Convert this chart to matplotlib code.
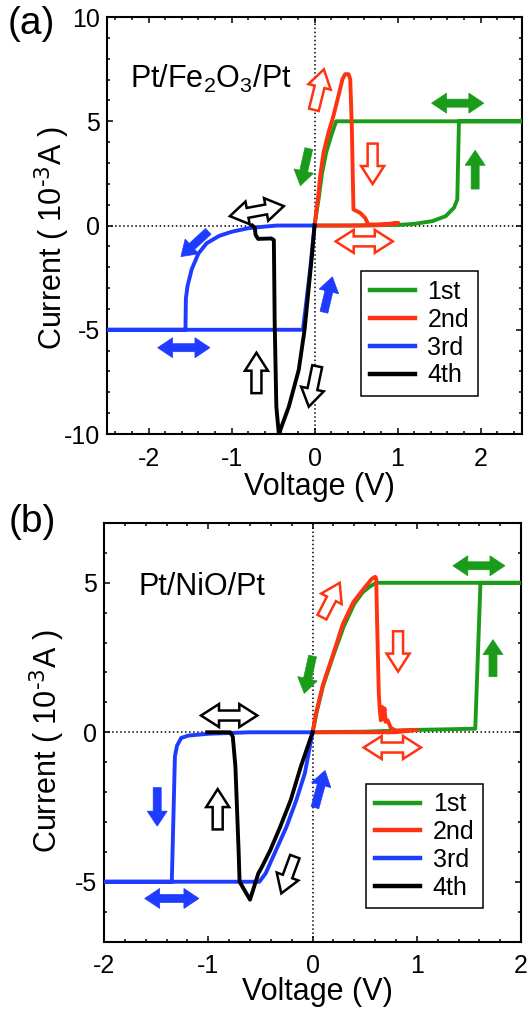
import numpy as np
import matplotlib
matplotlib.use("Agg")
import matplotlib.pyplot as plt
from matplotlib.patches import Polygon
from matplotlib.ticker import MultipleLocator

plt.rcParams['font.family'] = ['Liberation Sans', 'DejaVu Sans']
plt.rcParams['mathtext.default'] = 'regular'
plt.rcParams['axes.unicode_minus'] = False

GREEN = '#1a9c1a'
RED = '#ff3311'
BLUE = '#1e3cff'
BLACK = '#000000'

labels = ['1st', '2nd', '3rd', '4th']

# ---- Pt/Fe2O3/Pt sweeps (V, 1e-3 A) ----
fe_v1 = [0, 0.5, 1.02, 1.2, 1.42, 1.58, 1.68, 1.72, 1.74, 2.5, 0.26, 0.2, 0.14, 0.09, 0.05, 0]
fe_i1 = [0, 0.0, 0.03, 0.08, 0.21, 0.45, 0.85, 1.25, 5.0, 5.0, 5.0, 4.3, 3.5, 2.5, 1.3, 0]

fe_v2 = [0, 0.04, 0.068, 0.108, 0.168, 0.228, 0.288, 0.337, 0.369, 0.41, 0.43, 0.449,
         0.469, 0.549, 0.609, 0.649, 0.73, 0.85, 1.01, 0.8, 0.4, 0]
fe_i2 = [0, 1.25, 2.37, 3.49, 4.46, 5.26, 6.22, 7.02, 7.26, 7.26, 7.02, 4.78,
         0.77, 0.61, 0.37, 0.05, 0.05, 0.07, 0.12, 0.02, 0.0, 0]

fe_v3 = [0, -0.45, -0.6, -0.8, -1.0, -1.15, -1.3, -1.4, -1.48, -1.53, -1.55, -1.555,
         -2.5, -0.14, -0.1, -0.05, 0]
fe_i3 = [0, 0, -0.05, -0.13, -0.3, -0.5, -0.85, -1.35, -2.1, -2.9, -3.5, -5.0,
         -5.0, -5.0, -3.7, -2.0, 0]

fe_v4 = [0, -0.032, -0.072, -0.12, -0.19, -0.31, -0.43, -0.46, -0.48, -0.49, -0.52,
         -0.68, -0.71, -0.72, -0.75]
fe_i4 = [0, -1.47, -3.08, -5.0, -6.92, -8.69, -10.0, -8.69, -4.68, -0.7, -0.62,
         -0.64, -0.45, -0.1, 0]

# ---- Pt/NiO/Pt sweeps ----
ni_v1 = [0, 0.5, 1.0, 1.3, 1.56, 1.61, 2.0, 0.61, 0.55, 0.48, 0.4, 0.3, 0.2, 0.1, 0.04, 0]
ni_i1 = [0, 0.02, 0.08, 0.1, 0.12, 5.0, 5.0, 5.0, 4.88, 4.68, 4.3, 3.55, 2.58, 1.55, 0.68, 0]

ni_v2 = [0, 0.038, 0.102, 0.198, 0.29, 0.39, 0.49, 0.567, 0.6, 0.61, 0.62, 0.635,
         0.645, 0.655, 0.665, 0.675, 0.69, 0.70, 0.72, 0.75, 0.8, 1.0, 0.8, 0]
ni_i2 = [0, 0.72, 1.62, 2.62, 3.62, 4.35, 4.8, 5.13, 5.2, 5.15, 3.5, 1.3,
         0.73, 0.4, 0.85, 0.45, 0.8, 0.35, 0.4, 0.15, 0.05, 0.08, 0.0, 0]

ni_v3 = [0, -0.6, -1.0, -1.19, -1.26, -1.3, -1.32, -1.35, -2.0, -0.51, -0.45, -0.35,
         -0.25, -0.155, -0.074, 0]
ni_i3 = [0, 0.0, -0.05, -0.11, -0.19, -0.45, -0.8, -5.0, -5.0, -5.0, -4.72, -3.94,
         -3.16, -2.26, -1.37, 0]

ni_v4 = [0, -0.113, -0.21, -0.31, -0.405, -0.485, -0.52, -0.6, -0.7, -0.71, -0.74,
         -0.765, -0.79, -1.01]
ni_i4 = [0, -1.15, -2.27, -3.16, -3.94, -4.5, -4.72, -5.6, -5.0, -3.9, -1.15,
         -0.15, 0, 0]

# sweep-direction arrows: (tail, head, colour, filled, double)
fe_arrows = [
    ((-0.069, 3.69), (-0.17, 1.91), GREEN, True, False),
    ((1.935, 1.75), (1.935, 3.61), GREEN, True, False),
    ((1.41, 5.87), (2.04, 5.87), GREEN, True, True),
    ((-0.008, 5.55), (0.113, 7.49), RED, False, False),
    ((0.70, 3.93), (0.70, 1.99), RED, False, False),
    ((0.255, -0.76), (0.943, -0.76), RED, False, True),
    ((-1.28, -0.28), (-1.61, -1.49), BLUE, True, False),
    ((0.113, -4.16), (0.215, -2.46), BLUE, True, False),
    ((-1.89, -5.86), (-1.26, -5.86), BLUE, True, True),
    ((-1.02, 0.45), (-0.37, 0.93), BLACK, False, True),
    ((-0.70, -8.04), (-0.70, -6.1), BLACK, False, False),
    ((0.032, -6.75), (-0.069, -8.69), BLACK, False, False),
]
ni_arrows = [
    ((0.0, 2.55), (-0.08, 1.3), GREEN, True, False),
    ((1.73, 1.86), (1.73, 3.10), GREEN, True, False),
    ((1.345, 5.57), (1.845, 5.57), GREEN, True, True),
    ((0.09, 3.85), (0.26, 5.0), RED, False, False),
    ((0.82, 3.38), (0.82, 2.03), RED, False, False),
    ((0.49, -0.51), (1.04, -0.51), RED, False, True),
    ((-1.49, -1.85), (-1.49, -3.14), BLUE, True, False),
    ((0.023, -2.52), (0.12, -1.28), BLUE, True, False),
    ((-1.61, -5.56), (-1.09, -5.56), BLUE, True, True),
    ((-1.07, 0.56), (-0.53, 0.56), BLACK, False, True),
    ((-0.91, -3.25), (-0.91, -1.90), BLACK, False, False),
    ((-0.17, -4.16), (-0.30, -5.39), BLACK, False, False),
]


def block_arrow(ax, p0, p1, color, filled, double):
    # arrow outline built in pixel space so head sizes don't depend on aspect
    if filled:
        shaft, head_w, head_l = 8, 20, 15
    else:
        shaft, head_w, head_l = 10, 23, 18
    t = ax.transData
    a = np.array(t.transform(p0))
    b = np.array(t.transform(p1))
    d = b - a
    L = np.hypot(*d)
    u = d / L
    n = np.array([-u[1], u[0]])
    hw, sw = head_w * 0.5, shaft * 0.5
    if double:
        pts = [(0, 0), (head_l, hw), (head_l, sw), (L - head_l, sw), (L - head_l, hw),
               (L, 0), (L - head_l, -hw), (L - head_l, -sw), (head_l, -sw), (head_l, -hw)]
    else:
        pts = [(0, sw), (L - head_l, sw), (L - head_l, hw), (L, 0),
               (L - head_l, -hw), (L - head_l, -sw), (0, -sw)]
    pix = np.array([a + s * u + w * n for s, w in pts])
    verts = t.inverted().transform(pix)
    ax.add_patch(Polygon(verts, closed=True,
                         facecolor=color if filled else 'white',
                         edgecolor=color, linewidth=0.5 if filled else 1.8,
                         joinstyle='miter', zorder=6))


def draw_panel(ax, curves, xlim, ylim, title, title_xy, arrows, leg_xy, ylab_xy, xlab_xy):
    ax.set_xlim(*xlim)
    ax.set_ylim(*ylim)
    ax.axhline(0, color='black', lw=1.1, ls=':', zorder=1)
    ax.axvline(0, color='black', lw=1.1, ls=':', zorder=1)
    colors = [GREEN, RED, BLUE, BLACK]
    for (v, i), c, lab in zip(curves, colors, labels):
        ax.plot(v, i, color=c, lw=2.8, label=lab, solid_joinstyle='round', zorder=3)

    ax.xaxis.set_major_locator(MultipleLocator(1))
    ax.xaxis.set_minor_locator(MultipleLocator(0.2))
    ax.yaxis.set_major_locator(MultipleLocator(5))
    ax.yaxis.set_minor_locator(MultipleLocator(1))
    ax.tick_params(which='both', direction='in', top=True, right=True, width=1.1)
    ax.tick_params(which='major', length=4.5, labelsize=18)
    ax.tick_params(which='minor', length=2.2)
    ax.tick_params(axis='x', pad=9)
    ax.tick_params(axis='y', pad=5)
    for s in ax.spines.values():
        s.set_linewidth(1.5)

    ax.set_xlabel('Voltage (V)', fontsize=22)
    ax.set_ylabel(r'Current ( 10$^{\text{-3}}$A )', fontsize=22)
    ax.xaxis.set_label_coords(*xlab_xy)
    ax.yaxis.set_label_coords(*ylab_xy)

    ax.text(title_xy[0], title_xy[1], title, fontsize=22, va='baseline', ha='left')

    leg = ax.legend(loc='lower left', bbox_to_anchor=leg_xy, borderaxespad=0,
                    fontsize=18, frameon=True, fancybox=False, framealpha=1,
                    edgecolor='black', handlelength=1.8, handletextpad=0.5,
                    labelspacing=0.15, borderpad=0.35)
    leg.get_frame().set_linewidth(1.1)
    for ln in leg.get_lines():
        ln.set_linewidth(3.2)

    for tail, head, c, filled, double in arrows:
        block_arrow(ax, tail, head, c, filled, double)


fig = plt.figure(figsize=(5.28, 10.15), dpi=100)
ax_a = fig.add_axes([0.2027, 0.5724, 0.786, 0.4108])
ax_b = fig.add_axes([0.197, 0.0724, 0.790, 0.4123])

draw_panel(ax_a,
           [(fe_v1, fe_i1), (fe_v2, fe_i2), (fe_v3, fe_i3), (fe_v4, fe_i4)],
           (-2.5, 2.5), (-10, 10), 'Pt/Fe$_2$O$_3$/Pt', (-2.22, 6.6),
           fe_arrows, (0.612, 0.091), (-0.084, 0.47), (0.512, -0.09))

draw_panel(ax_b,
           [(ni_v1, ni_i1), (ni_v2, ni_i2), (ni_v3, ni_i3), (ni_v4, ni_i4)],
           (-2, 2), (-7, 7), 'Pt/NiO/Pt', (-1.67, 4.6),
           ni_arrows, (0.629, 0.079), (-0.088, 0.48), (0.511, -0.085))

fig.text(31 / 528, 1 - 24 / 1015, '(a)', fontsize=28, ha='center', va='center')
fig.text(32 / 528, 1 - 522 / 1015, '(b)', fontsize=28, ha='center', va='center')

fig.savefig('out.png', dpi=100)
